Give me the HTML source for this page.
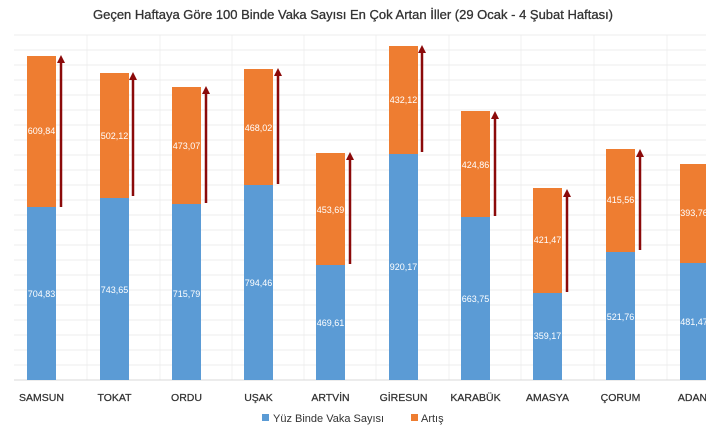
<!DOCTYPE html><html><head><meta charset="utf-8"><style>body{margin:0;background:#fff}svg{display:block}</style></head><body>
<svg width="706" height="431" xmlns="http://www.w3.org/2000/svg" font-family="Liberation Sans, sans-serif">
<rect width="706" height="431" fill="#fff"/>
<text x="353" y="19" text-anchor="middle" font-size="13" fill="#333" stroke="#333" stroke-width="0.3">Geçen Haftaya Göre 100 Binde Vaka Sayısı En Çok Artan İller (29 Ocak - 4 Şubat Haftası)</text>
<g stroke="#f0f0f0" stroke-width="1">
<line x1="87" y1="35" x2="87" y2="380"/><line x1="160" y1="35" x2="160" y2="380"/><line x1="232" y1="35" x2="232" y2="380"/><line x1="304" y1="35" x2="304" y2="380"/><line x1="376" y1="35" x2="376" y2="380"/><line x1="449" y1="35" x2="449" y2="380"/><line x1="521" y1="35" x2="521" y2="380"/><line x1="594" y1="35" x2="594" y2="380"/><line x1="667" y1="35" x2="667" y2="380"/>
</g>
<g stroke="#ececec" stroke-width="1">
<line x1="14" y1="35" x2="706" y2="35"/><line x1="14" y1="50" x2="706" y2="50"/><line x1="14" y1="65" x2="706" y2="65"/><line x1="14" y1="80" x2="706" y2="80"/><line x1="14" y1="95" x2="706" y2="95"/><line x1="14" y1="110" x2="706" y2="110"/><line x1="14" y1="125" x2="706" y2="125"/><line x1="14" y1="140" x2="706" y2="140"/><line x1="14" y1="155" x2="706" y2="155"/><line x1="14" y1="170" x2="706" y2="170"/><line x1="14" y1="185" x2="706" y2="185"/><line x1="14" y1="200" x2="706" y2="200"/><line x1="14" y1="215" x2="706" y2="215"/><line x1="14" y1="230" x2="706" y2="230"/><line x1="14" y1="245" x2="706" y2="245"/><line x1="14" y1="260" x2="706" y2="260"/><line x1="14" y1="275" x2="706" y2="275"/><line x1="14" y1="290" x2="706" y2="290"/><line x1="14" y1="305" x2="706" y2="305"/><line x1="14" y1="320" x2="706" y2="320"/><line x1="14" y1="335" x2="706" y2="335"/><line x1="14" y1="350" x2="706" y2="350"/><line x1="14" y1="365" x2="706" y2="365"/>
</g>
<line x1="14" y1="380" x2="706" y2="380" stroke="#d8d8d8"/>
<g font-size="9" fill="#fff" text-anchor="middle">
<rect x="27" y="56" width="29" height="151" fill="#ee7d31"/><rect x="27" y="207" width="29" height="173" fill="#5b9bd5"/><text x="41.5" y="134">609,84</text><text x="41.5" y="297">704,83</text>
<rect x="100" y="73" width="29" height="125" fill="#ee7d31"/><rect x="100" y="198" width="29" height="182" fill="#5b9bd5"/><text x="114.5" y="139">502,12</text><text x="114.5" y="293">743,65</text>
<rect x="172" y="87" width="29" height="117" fill="#ee7d31"/><rect x="172" y="204" width="29" height="176" fill="#5b9bd5"/><text x="186.5" y="149">473,07</text><text x="186.5" y="297">715,79</text>
<rect x="244" y="69" width="29" height="116" fill="#ee7d31"/><rect x="244" y="185" width="29" height="195" fill="#5b9bd5"/><text x="258.5" y="131">468,02</text><text x="258.5" y="286">794,46</text>
<rect x="316" y="153" width="29" height="112" fill="#ee7d31"/><rect x="316" y="265" width="29" height="115" fill="#5b9bd5"/><text x="330.5" y="213">453,69</text><text x="330.5" y="326">469,61</text>
<rect x="389" y="46" width="29" height="108" fill="#ee7d31"/><rect x="389" y="154" width="29" height="226" fill="#5b9bd5"/><text x="403.5" y="103">432,12</text><text x="403.5" y="270">920,17</text>
<rect x="461" y="111" width="29" height="106" fill="#ee7d31"/><rect x="461" y="217" width="29" height="163" fill="#5b9bd5"/><text x="475.5" y="168">424,86</text><text x="475.5" y="302">663,75</text>
<rect x="533" y="188" width="29" height="105" fill="#ee7d31"/><rect x="533" y="293" width="29" height="87" fill="#5b9bd5"/><text x="547.5" y="243">421,47</text><text x="547.5" y="339">359,17</text>
<rect x="606" y="149" width="29" height="103" fill="#ee7d31"/><rect x="606" y="252" width="29" height="128" fill="#5b9bd5"/><text x="620.5" y="203">415,56</text><text x="620.5" y="320">521,76</text>
<rect x="680" y="164" width="30" height="99" fill="#ee7d31"/><rect x="680" y="263" width="30" height="117" fill="#5b9bd5"/><text x="694" y="216">393,76</text><text x="694" y="325">481,47</text>
</g>
<g stroke="#8b0a0a" stroke-width="2.5" fill="#8b0a0a">
<line x1="61" y1="207" x2="61" y2="62"/><polygon points="57,63 65,63 61,55" stroke="none"/>
<line x1="133" y1="196" x2="133" y2="79"/><polygon points="129,80 137,80 133,72" stroke="none"/>
<line x1="206" y1="203" x2="206" y2="93"/><polygon points="202,94 210,94 206,86" stroke="none"/>
<line x1="278" y1="184" x2="278" y2="75"/><polygon points="274,76 282,76 278,68" stroke="none"/>
<line x1="350" y1="264" x2="350" y2="159"/><polygon points="346,160 354,160 350,152" stroke="none"/>
<line x1="422" y1="152" x2="422" y2="52"/><polygon points="418,53 426,53 422,45" stroke="none"/>
<line x1="495" y1="216" x2="495" y2="118"/><polygon points="491,119 499,119 495,111" stroke="none"/>
<line x1="567" y1="292" x2="567" y2="196"/><polygon points="563,197 571,197 567,189" stroke="none"/>
<line x1="640" y1="250" x2="640" y2="156"/><polygon points="636,157 644,157 640,149" stroke="none"/>
</g>
<g font-size="10.5" fill="#333" text-anchor="middle" stroke="#333" stroke-width="0.25">
<text x="41.5" y="401">SAMSUN</text><text x="114.5" y="401">TOKAT</text><text x="186.5" y="401">ORDU</text><text x="258.5" y="401">UŞAK</text><text x="330.5" y="401">ARTVİN</text><text x="403.5" y="401">GİRESUN</text><text x="475.5" y="401">KARABÜK</text><text x="547.5" y="401">AMASYA</text><text x="620.5" y="401">ÇORUM</text><text x="696" y="401">ADANA</text>
</g>
<rect x="262" y="414" width="7" height="7" fill="#5b9bd5"/><text x="273" y="422" font-size="11" fill="#333">Yüz Binde Vaka Sayısı</text>
<rect x="411" y="414" width="7" height="7" fill="#ee7d31"/><text x="421" y="422" font-size="11" fill="#333">Artış</text>
</svg>
</body></html>
